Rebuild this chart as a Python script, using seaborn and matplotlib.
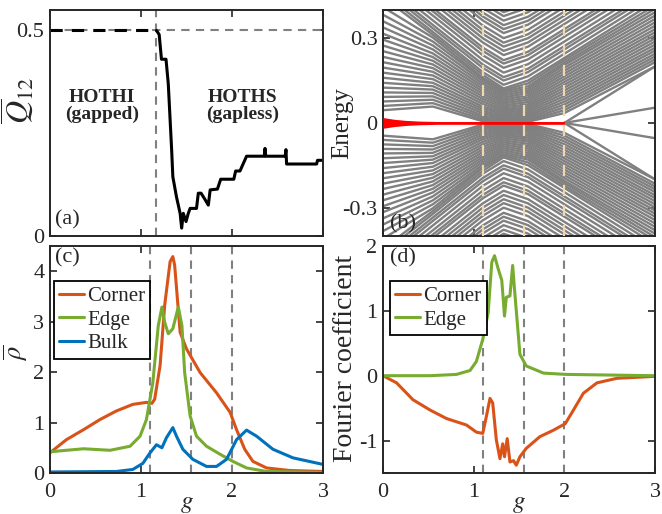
import numpy as np
import pandas as pd
import matplotlib
matplotlib.use("Agg")
import matplotlib.pyplot as plt
import seaborn as sns

# ---------------- data ----------------
# (a) averaged quadrupole moment vs g
q_g = [0.00, 1.17, 1.20, 1.225, 1.275, 1.30, 1.337, 1.35, 1.39, 1.43, 1.447, 1.465, 1.495, 1.52,
       1.54, 1.61, 1.63, 1.66, 1.70, 1.74, 1.76, 1.84, 1.876, 2.02, 2.04, 2.088, 2.16, 2.355,
       2.363, 2.371, 2.585, 2.593, 2.60, 2.93, 2.94, 3.00]
q_val = [0.5, 0.5, 0.49, 0.43, 0.43, 0.37, 0.209, 0.144, 0.095, 0.055, 0.019, 0.055, 0.035, 0.055,
         0.067, 0.067, 0.104, 0.104, 0.09, 0.075, 0.112, 0.114, 0.138, 0.138, 0.158, 0.158, 0.194, 0.194,
         0.213, 0.194, 0.194, 0.21, 0.175, 0.175, 0.184, 0.184]
q_gap_close = 1.17

# (b) spectrum: upper-half levels read at a few g values (the lower half is the mirror image)
band_g = [0.0, 0.55, 1.1, 1.33, 1.6, 2.0, 3.0]
band_e_000 = [0.045, 0.060, 0.076, 0.092, 0.108, 0.125, 0.142, 0.160, 0.178, 0.196, 0.215, 0.234, 0.254, 0.274,
              0.295, 0.316, 0.338, 0.360, 0.383, 0.410, 0.445, 0.460, 0.475, 0.487, 0.503, 0.520, 0.535, 0.547,
              0.565, 0.580, 0.595, 0.609, 0.625, 0.643, 0.657, 0.671, 0.687, 0.703, 0.717, 0.735]
band_e_055 = [0.058, 0.070, 0.082, 0.094, 0.106, 0.118, 0.130, 0.142, 0.155, 0.168, 0.181, 0.194, 0.207, 0.220,
              0.233, 0.246, 0.260, 0.274, 0.288, 0.302, 0.312, 0.322, 0.335, 0.347, 0.363, 0.380, 0.395, 0.407,
              0.425, 0.440, 0.455, 0.469, 0.485, 0.503, 0.517, 0.531, 0.547, 0.563, 0.577, 0.595]
band_e_110 = [0.006, 0.012, 0.019, 0.026, 0.034, 0.042, 0.050, 0.058, 0.067, 0.076, 0.085, 0.094, 0.103, 0.112,
              0.121, 0.130, 0.139, 0.148, 0.156, 0.160, 0.170, 0.180, 0.195, 0.207, 0.223, 0.240, 0.255, 0.267,
              0.285, 0.300, 0.315, 0.329, 0.345, 0.363, 0.377, 0.391, 0.407, 0.423, 0.437, 0.455]
band_e_133 = [0.002, 0.005, 0.009, 0.014, 0.019, 0.024, 0.030, 0.036, 0.042, 0.048, 0.055, 0.062, 0.069, 0.076,
              0.083, 0.090, 0.097, 0.104, 0.111, 0.116, 0.122, 0.135, 0.150, 0.162, 0.178, 0.195, 0.210, 0.222,
              0.240, 0.255, 0.270, 0.284, 0.300, 0.318, 0.332, 0.346, 0.362, 0.378, 0.392, 0.410]
band_e_160 = [0.004, 0.008, 0.013, 0.019, 0.025, 0.031, 0.038, 0.045, 0.052, 0.059, 0.066, 0.074, 0.082, 0.090,
              0.098, 0.106, 0.114, 0.122, 0.130, 0.140, 0.150, 0.165, 0.180, 0.192, 0.208, 0.225, 0.240, 0.252,
              0.270, 0.285, 0.300, 0.314, 0.330, 0.348, 0.362, 0.376, 0.392, 0.408, 0.422, 0.440]
band_e_200 = [0.035, 0.045, 0.055, 0.065, 0.075, 0.085, 0.095, 0.105, 0.115, 0.125, 0.135, 0.145, 0.155, 0.165,
              0.175, 0.185, 0.195, 0.205, 0.213, 0.222, 0.230, 0.245, 0.260, 0.272, 0.288, 0.305, 0.320, 0.332,
              0.350, 0.365, 0.380, 0.394, 0.410, 0.428, 0.442, 0.456, 0.472, 0.488, 0.502, 0.520]
band_e_300 = [0.200, 0.215, 0.225, 0.235, 0.245, 0.256, 0.266, 0.277, 0.288, 0.299, 0.310, 0.321, 0.332, 0.344,
              0.356, 0.368, 0.380, 0.392, 0.404, 0.416, 0.430, 0.445, 0.460, 0.472, 0.488, 0.505, 0.520, 0.532,
              0.550, 0.565, 0.580, 0.594, 0.610, 0.628, 0.642, 0.656, 0.672, 0.688, 0.702, 0.720]
# zero modes (red) and the levels that split off them after g = 2
zero_g = [0.0, 0.12, 0.25, 0.4, 0.6, 2.0]
zero_halfwidth = [0.019, 0.013, 0.009, 0.0065, 0.005, 0.005]
split_g = [2.0, 3.0]
split_end = [0.054, 0.2]

# (c) averaged density
rho_corner_g = [0.0, 0.18, 0.37, 0.55, 0.73, 0.91, 1.06, 1.12, 1.15, 1.21, 1.26, 1.32, 1.35, 1.37, 1.43,
                1.50, 1.65, 1.83, 1.98, 2.05, 2.14, 2.23, 2.38, 2.63, 3.0]
rho_corner = [0.40, 0.66, 0.86, 1.06, 1.23, 1.36, 1.40, 1.38, 1.46, 2.13, 3.32, 4.19, 4.29, 4.12, 2.79,
              2.46, 1.99, 1.59, 1.20, 0.86, 0.47, 0.23, 0.10, 0.05, 0.03]
rho_edge_g = [0.0, 0.18, 0.37, 0.66, 0.88, 0.99, 1.06, 1.13, 1.19, 1.23, 1.26, 1.30, 1.35, 1.41, 1.45,
              1.48, 1.54, 1.61, 1.72, 1.87, 2.01, 2.16, 2.38, 3.0]
rho_edge = [0.42, 0.45, 0.48, 0.45, 0.53, 0.73, 1.06, 1.79, 2.92, 3.29, 2.99, 2.76, 2.86, 3.29, 2.92,
            1.99, 1.13, 0.73, 0.53, 0.37, 0.23, 0.10, 0.03, 0.01]
rho_bulk_g = [0.0, 0.73, 0.91, 1.02, 1.10, 1.17, 1.23, 1.28, 1.35, 1.39, 1.46, 1.57, 1.72, 1.83, 1.94,
              2.05, 2.16, 2.27, 2.45, 2.67, 3.0]
rho_bulk = [0.02, 0.03, 0.07, 0.19, 0.40, 0.56, 0.50, 0.70, 0.90, 0.73, 0.47, 0.27, 0.13, 0.13, 0.27,
            0.66, 0.85, 0.73, 0.47, 0.30, 0.17]

# (d) Fourier coefficients
four_edge_g = [0.0, 0.52, 0.81, 0.96, 1.03, 1.10, 1.16, 1.20, 1.23, 1.27, 1.31, 1.34, 1.36, 1.40, 1.43,
               1.45, 1.51, 1.58, 1.77, 2.02, 3.0]
four_edge = [0.0, 0.0, 0.02, 0.08, 0.22, 0.56, 0.97, 1.75, 1.85, 1.65, 1.47, 0.92, 1.21, 1.23, 1.70,
             1.34, 0.33, 0.15, 0.04, 0.02, 0.0]
four_corner_g = [0.0, 0.15, 0.33, 0.52, 0.70, 0.92, 1.03, 1.10, 1.14, 1.18, 1.21, 1.25, 1.29, 1.32, 1.34,
                 1.37, 1.40, 1.44, 1.47, 1.51, 1.58, 1.73, 1.88, 2.01, 2.10, 2.21, 2.36, 2.58, 3.0]
four_corner = [0.0, -0.11, -0.37, -0.53, -0.66, -0.76, -0.87, -0.89, -0.63, -0.35, -0.42, -0.99, -1.28,
               -1.05, -1.25, -0.97, -1.33, -1.31, -1.38, -1.25, -1.12, -0.94, -0.84, -0.74, -0.53, -0.27,
               -0.11, -0.04, -0.01]

phase_g = [1.1, 1.55, 2.0]

# ---------------- style ----------------
sns.set_theme(style="ticks")
plt.rcParams["font.family"] = ["Liberation Serif", "DejaVu Serif"]
plt.rcParams["mathtext.fontset"] = "stix"
plt.rcParams["axes.unicode_minus"] = False
plt.rcParams["xtick.direction"] = "in"
plt.rcParams["ytick.direction"] = "in"
plt.rcParams["xtick.top"] = True
plt.rcParams["ytick.right"] = True
plt.rcParams["axes.linewidth"] = 1.4
plt.rcParams["axes.edgecolor"] = "#262626"

C_CORNER, C_EDGE, C_BULK = "#D95319", "#77AC30", "#0072BD"
GRAY = "#808080"
TICK_FS, LABEL_FS = 16, 18

fig = plt.figure(figsize=(6.62, 5.14), dpi=100)
ax_a = fig.add_axes([0.0755, 0.541, 0.4124, 0.4397])
ax_b = fig.add_axes([0.5785, 0.541, 0.411, 0.4397])
ax_c = fig.add_axes([0.0755, 0.0798, 0.4124, 0.4416])
ax_d = fig.add_axes([0.5785, 0.0798, 0.411, 0.4416])

for ax in (ax_a, ax_b, ax_c, ax_d):
    ax.tick_params(labelsize=TICK_FS, length=5, width=1.2, pad=4, color="#262626")
    ax.set_xlim(0, 3)
    ax.set_xticks([0, 1, 2, 3])

legend_kw = dict(loc="upper left", fontsize=15, frameon=True, fancybox=False, edgecolor="black",
                 framealpha=1, handlelength=1.2, handletextpad=0.15, borderpad=0.25,
                 labelspacing=0.2, borderaxespad=0)

# ---- (a) ----
df_q = pd.DataFrame({"g": q_g, "Q": q_val})
ax_a.axhline(0.5, color=GRAY, ls=(0, (4, 3)), lw=1.5, zorder=1)
ax_a.axvline(q_gap_close, color=GRAY, ls=(0, (4, 3)), lw=1.5, zorder=1)
sns.lineplot(data=df_q.iloc[:2], x="g", y="Q", color="black", lw=2.2, ls=(0, (4, 3)),
             estimator=None, sort=False, ax=ax_a)
sns.lineplot(data=df_q.iloc[1:], x="g", y="Q", color="black", lw=2.2,
             estimator=None, sort=False, ax=ax_a)
ax_a.set_ylim(0, 0.55)
ax_a.set_yticks([0, 0.5])
ax_a.set_yticklabels(["0", "0.5"])
ax_a.set_xticklabels([])
ax_a.set_xlabel("")
ax_a.set_ylabel(r"$\overline{Q}_{12}$", fontsize=23)
ax_a.yaxis.set_label_coords(-0.05, 0.6)
ax_a.text(0.57, 0.316, "HOTHI\n(gapped)", ha="center", va="center", fontsize=14,
          fontweight="bold", linespacing=1.0)
ax_a.text(2.12, 0.316, "HOTHS\n(gapless)", ha="center", va="center", fontsize=14,
          fontweight="bold", linespacing=1.0)
ax_a.text(0.06, 0.015, "(a)", fontsize=16, ha="left", va="bottom")

# ---- (b) ----
band_cols = [band_e_000, band_e_055, band_e_110, band_e_133, band_e_160, band_e_200, band_e_300]
n_lev = len(band_e_000)
recs = []
for k in range(n_lev):
    for g, col in zip(band_g, band_cols):
        recs.append((k, g, col[k]))
        recs.append((k + n_lev, g, -col[k]))
for k, e_end in enumerate(split_end):
    for sgn in (1, -1):
        lvl = 2 * n_lev + 2 * k + (sgn < 0)
        recs.append((lvl, split_g[0], 0.0))
        recs.append((lvl, split_g[1], sgn * e_end))
df_b = pd.DataFrame(recs, columns=["level", "g", "E"])
sns.lineplot(data=df_b, x="g", y="E", units="level", estimator=None, sort=False,
             color=GRAY, lw=1.7, ax=ax_b)
ax_b.fill_between(zero_g, [-w for w in zero_halfwidth], zero_halfwidth, color="#FF0000",
                  lw=0, zorder=3)
for g in phase_g:
    ax_b.axvline(g, color="#F1D7AE", ls=(0, (5, 4)), lw=1.6, zorder=4)
ax_b.set_ylim(-0.4, 0.4)
ax_b.set_yticks([-0.3, 0, 0.3])
ax_b.set_yticklabels(["-0.3", "0", "0.3"])
ax_b.set_xticklabels([])
ax_b.set_xlabel("")
ax_b.set_ylabel("Energy", fontsize=LABEL_FS)
ax_b.yaxis.set_label_coords(-0.11, 0.5)
ax_b.text(0.08, -0.392, "(b)", fontsize=16, ha="left", va="bottom", zorder=5)

# ---- (c) ----
df_c = pd.concat([
    pd.DataFrame({"g": rho_corner_g, "rho": rho_corner, "part": "Corner"}),
    pd.DataFrame({"g": rho_edge_g, "rho": rho_edge, "part": "Edge"}),
    pd.DataFrame({"g": rho_bulk_g, "rho": rho_bulk, "part": "Bulk"}),
])
for g in phase_g:
    ax_c.axvline(g, color=GRAY, ls=(0, (4, 3)), lw=1.5, zorder=1)
sns.lineplot(data=df_c, x="g", y="rho", hue="part", hue_order=["Corner", "Edge", "Bulk"],
             palette=[C_CORNER, C_EDGE, C_BULK], lw=2.2, estimator=None, sort=False, ax=ax_c)
ax_c.set_ylim(0, 4.5)
ax_c.set_yticks([0, 1, 2, 3, 4])
ax_c.set_ylabel(r"$\overline{\rho}$", fontsize=19)
ax_c.yaxis.set_label_coords(-0.075, 0.53)
ax_c.set_xlabel(r"$g$", fontsize=LABEL_FS)
ax_c.xaxis.set_label_coords(0.5, -0.09)
ax_c.legend(bbox_to_anchor=(0.014, 0.845), **legend_kw)
ax_c.get_legend().get_frame().set_linewidth(1.3)
ax_c.text(0.06, 4.45, "(c)", fontsize=16, ha="left", va="top")

# ---- (d) ----
df_d = pd.concat([
    pd.DataFrame({"g": four_corner_g, "F": four_corner, "part": "Corner"}),
    pd.DataFrame({"g": four_edge_g, "F": four_edge, "part": "Edge"}),
])
for g in phase_g:
    ax_d.axvline(g, color=GRAY, ls=(0, (4, 3)), lw=1.5, zorder=1)
sns.lineplot(data=df_d, x="g", y="F", hue="part", hue_order=["Corner", "Edge"],
             palette=[C_CORNER, C_EDGE], lw=2.2, estimator=None, sort=False, ax=ax_d)
ax_d.set_ylim(-1.5, 2)
ax_d.set_yticks([-1.5, -1, 0, 1, 2])
ax_d.set_yticklabels(["", "-1", "0", "1", "2"])
ax_d.set_ylabel("Fourier coefficient", fontsize=20)
ax_d.yaxis.set_label_coords(-0.09, 0.505)
ax_d.set_xlabel(r"$g$", fontsize=LABEL_FS)
ax_d.xaxis.set_label_coords(0.5, -0.09)
ax_d.legend(bbox_to_anchor=(0.026, 0.845), **legend_kw)
ax_d.get_legend().get_frame().set_linewidth(1.3)
ax_d.text(0.08, 1.97, "(d)", fontsize=16, ha="left", va="top")

for ax in (ax_c, ax_d):
    ax.set_xticklabels(["0", "1", "2", "3"])
    ax.tick_params(axis="x", pad=7)

fig.savefig("out.png", dpi=100)
